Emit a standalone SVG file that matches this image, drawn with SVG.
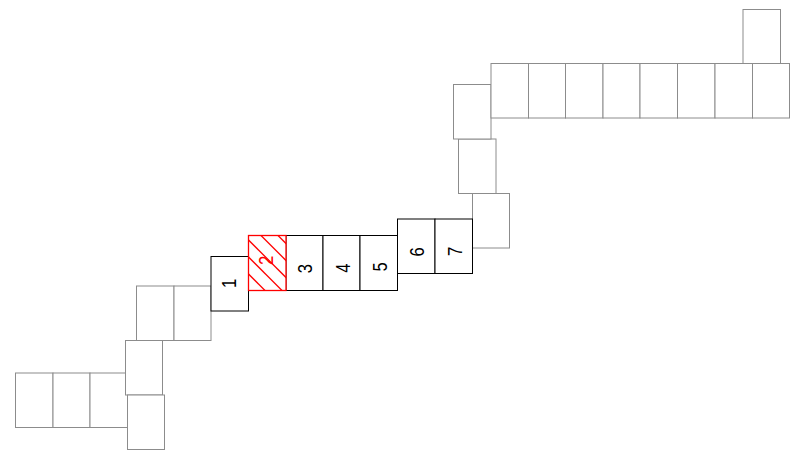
<svg xmlns="http://www.w3.org/2000/svg" width="795" height="459" viewBox="0 0 795 459">
<style>
rect{fill:#fff}
.g{stroke:#8c8c8c;stroke-width:1}
.k{stroke:#000;stroke-width:1}
.r{stroke:#f00;stroke-width:1.3}
text{font-family:"Liberation Sans",Arial,sans-serif;font-size:19.5px;text-anchor:middle;fill:#000}
</style>
<defs><clipPath id="c"><rect x="248.5" y="235.5" width="37.5" height="55"/></clipPath></defs>
<g id="grey-bottom">
<rect class="g" x="15.5" y="373" width="37.5" height="54.5"/>
<rect class="g" x="53" y="373" width="37" height="54.5"/>
<rect class="g" x="90" y="373" width="37.5" height="54.5"/>
<rect class="g" x="125.5" y="340.5" width="37" height="54.5"/>
<rect class="g" x="127.5" y="395" width="37" height="54.5"/>
<rect class="g" x="136.5" y="286" width="37.5" height="54.5"/>
<rect class="g" x="174" y="286" width="37" height="54.5"/>
</g>
<g id="grey-top">
<rect class="g" x="472.5" y="193.5" width="37" height="54.5"/>
<rect class="g" x="458.5" y="139" width="37.5" height="54.5"/>
<rect class="g" x="453.5" y="84.5" width="37.5" height="54.5"/>
<rect class="g" x="491" y="63.5" width="37.5" height="54.5"/>
<rect class="g" x="528.5" y="63.5" width="37" height="54.5"/>
<rect class="g" x="565.5" y="63.5" width="37.5" height="54.5"/>
<rect class="g" x="603" y="63.5" width="37" height="54.5"/>
<rect class="g" x="640" y="63.5" width="37.5" height="54.5"/>
<rect class="g" x="677.5" y="63.5" width="37.5" height="54.5"/>
<rect class="g" x="715" y="63.5" width="37.5" height="54.5"/>
<rect class="g" x="752.5" y="63.5" width="37" height="54.5"/>
<rect class="g" x="743" y="9.5" width="37.5" height="54"/>
</g>
<g id="n3"><rect class="k" x="286" y="235.5" width="37" height="55"/><text transform="translate(311.5 268.7) rotate(-90) scale(.85 1)">3</text></g>
<g id="n4"><rect class="k" x="323" y="235.5" width="37" height="55"/><text transform="translate(350 268.2) rotate(-90) scale(.85 1)">4</text></g>
<g id="n5"><rect class="k" x="360" y="235.5" width="37.5" height="55"/><text transform="translate(386.5 267) rotate(-90) scale(.85 1)">5</text></g>
<g id="n6"><rect class="k" x="397.5" y="219" width="37.5" height="54.5"/><text transform="translate(423.5 252) rotate(-90) scale(.85 1)">6</text></g>
<g id="n7"><rect class="k" x="435" y="219" width="37.5" height="54.5"/><text transform="translate(461.5 251.5) rotate(-90) scale(.85 1)">7</text></g>
<g id="n1"><rect class="k" x="211" y="256.5" width="37.5" height="54.5"/><text transform="translate(236 283.5) rotate(-90) scale(.85 1)">1</text></g>
<g id="n2">
<rect class="r" x="248.5" y="235.5" width="37.5" height="55"/>
<g clip-path="url(#c)" class="r">
<line x1="230" y1="255.5" x2="290" y2="315.5"/>
<line x1="230" y1="238.5" x2="290" y2="298.5"/>
<line x1="230" y1="221.5" x2="290" y2="281.5"/>
<line x1="230" y1="204.5" x2="290" y2="264.5"/>
<line x1="230" y1="187.5" x2="290" y2="247.5"/>
</g>
<text transform="translate(272.5 260.5) rotate(-90) scale(.85 1)" style="fill:#f00">2</text>
</g>
</svg>
